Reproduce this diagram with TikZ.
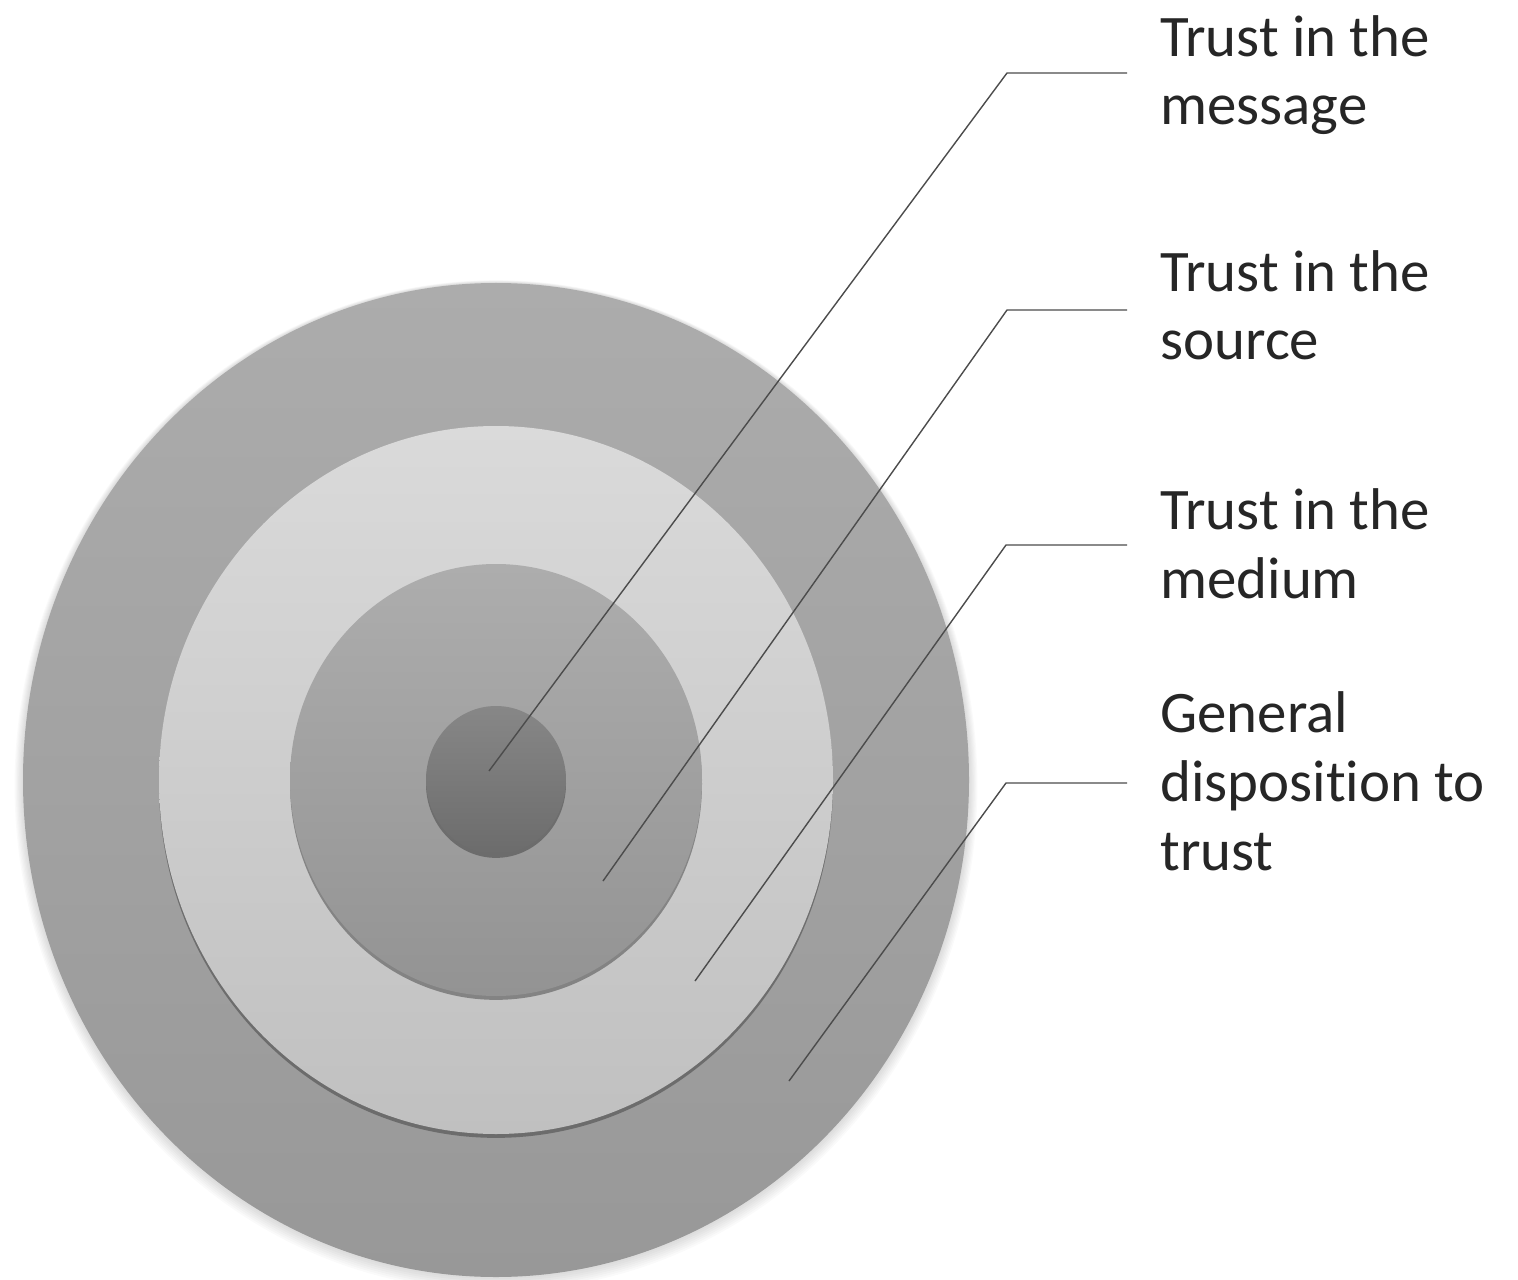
\documentclass[tikz,border=0pt]{standalone}
\usepackage{fontspec}
\setmainfont{Carlito}[Ligatures=NoCommon]
\usetikzlibrary{shadows,calc}
\definecolor{outerTop}{HTML}{ACACAC}
\definecolor{outerBot}{HTML}{989898}
\definecolor{mediumTop}{HTML}{DADADA}
\definecolor{mediumBot}{HTML}{C0C0C0}
\definecolor{sourceTop}{HTML}{ADADAD}
\definecolor{sourceBot}{HTML}{939393}
\definecolor{msgTop}{HTML}{878787}
\definecolor{msgBot}{HTML}{6C6C6C}

\begin{document}
\begin{tikzpicture}[x=0.02cm, y=-0.02cm,
    leader/.style={line width=0.8pt, black!70},
    ringlabel/.style={anchor=base west, align=left, inner xsep=0.66cm, inner ysep=0pt,
        text=black!85, font=\fontsize{33.5}{39}\selectfont},
    ringshadow/.style={drop shadow={shadow xshift=0pt, shadow yshift=-2.2pt,
        opacity=0.45, fill=black!80}}]
    \useasboundingbox (0,0) rectangle (1518,1280);
    \coordinate (c) at (496,780);
    \coordinate (tip1) at (489,771);
    \coordinate (tip2) at (603,881);
    \coordinate (tip3) at (695,981);
    \coordinate (tip4) at (789,1081);
    \coordinate (bend1) at (1007,73);
    \coordinate (bend2) at (1007,310);
    \coordinate (bend3) at (1006,545);
    \coordinate (bend4) at (1006,783);

    % soft halo round the outer disc
    \foreach \d in {2,4,...,14}
        \fill[black, opacity=0.018] ($(c)+(0,\d*0.4)$) ellipse [x radius=473+\d*0.6, y radius=497+\d*0.6];

    % rings
    \shade[top color=outerTop, bottom color=outerBot] (c) ellipse [x radius=473, y radius=497];
    \shade[top color=mediumTop, bottom color=mediumBot, ringshadow] (c) ellipse [x radius=337, y radius=354];
    \shade[top color=sourceTop, bottom color=sourceBot, ringshadow] (c) ellipse [x radius=206, y radius=216];
    \shade[top color=msgTop, bottom color=msgBot, ringshadow] (c) ellipse [x radius=70, y radius=74];

    % Labels (base = last line)
    \node[ringlabel] (msg) at (1127,125) {Trust in the\\message};
    \node[ringlabel] (src) at (1127,360) {Trust in the\\source};
    \node[ringlabel] (med) at (1127,598) {Trust in the\\medium};
    \node[ringlabel] (gen) at (1127,870) {General\\disposition to\\trust};

    % leaders
    \draw[leader] (tip1) -- (bend1) -- (bend1 -| msg.west);
    \draw[leader] (tip2) -- (bend2) -- (bend2 -| src.west);
    \draw[leader] (tip3) -- (bend3) -- (bend3 -| med.west);
    \draw[leader] (tip4) -- (bend4) -- (bend4 -| gen.west);
\end{tikzpicture}
\end{document}
